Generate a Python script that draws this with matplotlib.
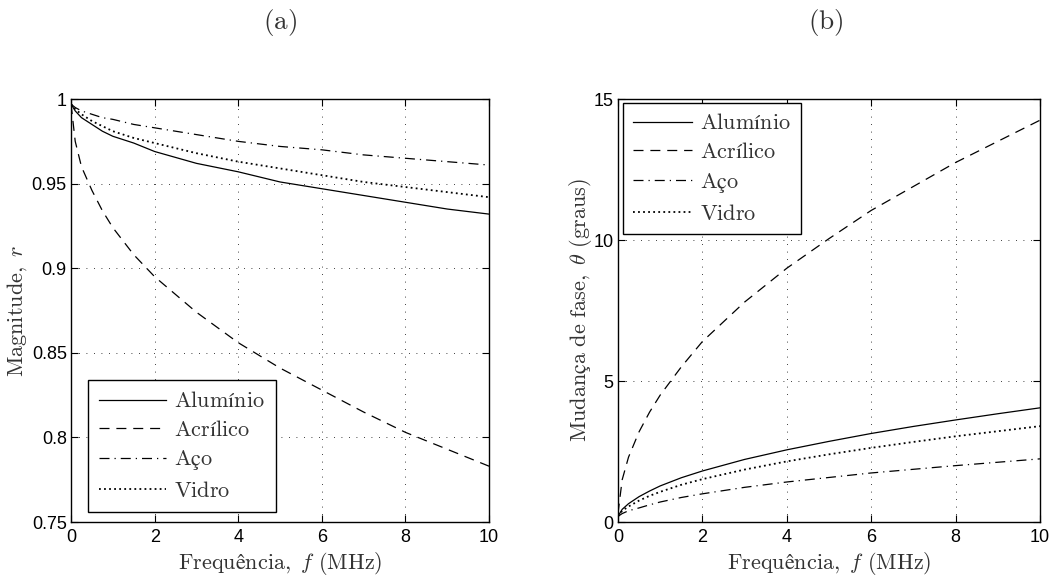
import numpy as np
import matplotlib
matplotlib.use('Agg')
import matplotlib.pyplot as plt

plt.rcParams['mathtext.fontset'] = 'cm'

# frequency samples (MHz)
freq = [0, 0.1, 0.25, 0.5, 0.75, 1, 1.5, 2, 3, 4, 5, 6, 7, 8, 9, 10]

# (a) magnitude r
mag_aluminio = [0.997, 0.993, 0.989, 0.985, 0.981, 0.978, 0.974, 0.969, 0.962, 0.957, 0.951, 0.947, 0.943, 0.939, 0.935, 0.932]
mag_acrilico = [0.997, 0.975, 0.960, 0.946, 0.934, 0.924, 0.908, 0.895, 0.874, 0.856, 0.841, 0.828, 0.815, 0.803, 0.793, 0.783]
mag_aco = [0.997, 0.995, 0.993, 0.991, 0.989, 0.988, 0.985, 0.983, 0.979, 0.975, 0.972, 0.970, 0.967, 0.965, 0.963, 0.961]
mag_vidro = [0.997, 0.994, 0.991, 0.987, 0.984, 0.981, 0.977, 0.974, 0.968, 0.963, 0.959, 0.955, 0.951, 0.948, 0.945, 0.942]

# (b) phase shift theta (degrees)
fase_aluminio = [0.2, 0.45, 0.65, 0.9, 1.1, 1.28, 1.57, 1.81, 2.22, 2.56, 2.86, 3.14, 3.39, 3.62, 3.84, 4.05]
fase_acrilico = [0.3, 1.5, 2.3, 3.2, 3.9, 4.5, 5.5, 6.4, 7.8, 9.0, 10.05, 11.05, 11.9, 12.75, 13.5, 14.25]
fase_aco = [0.2, 0.3, 0.4, 0.5, 0.61, 0.71, 0.87, 1.0, 1.23, 1.42, 1.58, 1.74, 1.87, 2.0, 2.12, 2.24]
fase_vidro = [0.2, 0.4, 0.55, 0.76, 0.93, 1.07, 1.32, 1.52, 1.86, 2.15, 2.40, 2.63, 2.84, 3.04, 3.22, 3.40]

labels = [r'$\mathrm{Alumínio}$', r'$\mathrm{Acrílico}$', r'$\mathrm{Aço}$', r'$\mathrm{Vidro}$']
styles = ['-', (0, (8, 5.5)), (0, (8, 4, 1, 4)), (0, (1, 1.8))]
widths = [0.9, 0.9, 0.9, 1.3]

fig = plt.figure(figsize=(10.54, 5.81), dpi=100)
ax1 = fig.add_axes([0.0674, 0.1015, 0.3966, 0.728])
ax2 = fig.add_axes([0.5863, 0.1015, 0.4004, 0.728])

for ys, ls, lw, lab in zip([mag_aluminio, mag_acrilico, mag_aco, mag_vidro], styles, widths, labels):
    ax1.plot(freq, ys, color='black', linestyle=ls, linewidth=lw, label=lab)
for ys, ls, lw, lab in zip([fase_aluminio, fase_acrilico, fase_aco, fase_vidro], styles, widths, labels):
    ax2.plot(freq, ys, color='black', linestyle=ls, linewidth=lw, label=lab)

ax1.set_xlim(0, 10)
ax1.set_ylim(0.75, 1)
ax1.set_yticks([0.75, 0.8, 0.85, 0.9, 0.95, 1])
ax1.set_yticklabels(['0.75', '0.8', '0.85', '0.9', '0.95', '1'])
ax1.set_ylabel(r'$\mathrm{Magnitude,}\ r$', fontsize=16, color='#333333')
ax1.yaxis.set_label_coords(-0.10, 0.5)

ax2.set_xlim(0, 10)
ax2.set_ylim(0, 15)
ax2.set_yticks([0, 5, 10, 15])
ax2.set_ylabel(r'$\mathrm{Mudança\ de\ fase,}\ \theta\ \mathrm{(graus)}$', fontsize=16, color='#333333')
ax2.yaxis.set_label_coords(-0.056, 0.5)

for ax in (ax1, ax2):
    ax.set_xticks([0, 2, 4, 6, 8, 10])
    ax.set_xlabel(r'$\mathrm{Frequência,}\ f\ \mathrm{(MHz)}$', fontsize=16, color='#333333', labelpad=3)
    ax.grid(True, color='black', linestyle=(0, (1, 8)), linewidth=0.6)
    ax.tick_params(direction='in', top=True, right=True, length=5, width=0.8)
    ax.tick_params(axis='x', pad=5)
    ax.tick_params(axis='y', pad=3)
    for lbl in ax.get_xticklabels() + ax.get_yticklabels():
        lbl.set_fontfamily('Liberation Sans')
        lbl.set_fontsize(13)
    for sp in ax.spines.values():
        sp.set_linewidth(1.0)

leg1 = ax1.legend(loc='lower left', bbox_to_anchor=(0.041, 0.024), borderaxespad=0, fontsize=16,
                  handlelength=3.0, handletextpad=0.36, fancybox=False, edgecolor='black',
                  framealpha=1, borderpad=0.5, labelspacing=0.38)
leg2 = ax2.legend(loc='upper left', bbox_to_anchor=(0.012, 0.99), borderaxespad=0, fontsize=16,
                  handlelength=2.65, handletextpad=0.36, fancybox=False, edgecolor='black',
                  framealpha=1, borderpad=0.45, labelspacing=0.4)
for leg in (leg1, leg2):
    leg.get_frame().set_linewidth(1.0)
    for t in leg.get_texts():
        t.set_color('#333333')

fig.text(0.266, 0.962, r'$\mathrm{(a)}$', fontsize=19.5, ha='center', va='center', color='#333333')
fig.text(0.783, 0.962, r'$\mathrm{(b)}$', fontsize=19.5, ha='center', va='center', color='#333333')

fig.savefig('out.png', dpi=100)
